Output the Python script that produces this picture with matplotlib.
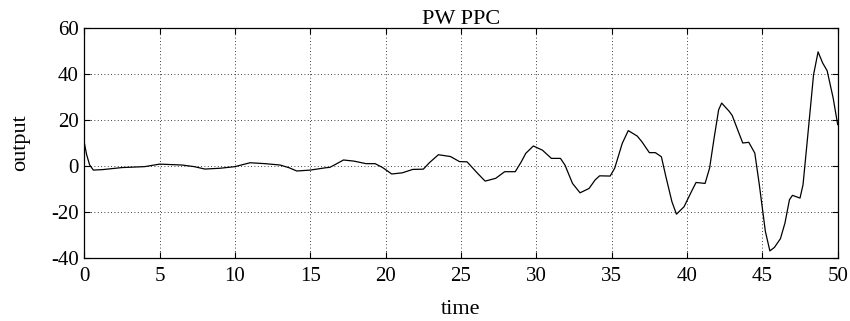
import matplotlib
matplotlib.use("Agg")
import matplotlib.pyplot as plt

t = [0.0, 0.15, 0.35, 0.6, 1.2, 2.5, 4.0, 5.0, 6.5, 7.3, 8.0, 9.0, 10.0, 11.0, 12.0, 13.0, 13.6, 14.1, 15.0,
     16.0, 16.3, 16.7, 17.2, 17.9, 18.7, 19.3, 19.8, 20.4, 21.1, 21.8, 22.5, 22.9, 23.5, 24.3, 24.9, 25.4,
     26.1, 26.6, 27.3, 27.9, 28.6, 29.0, 29.3, 29.8, 30.4, 31.0, 31.6, 31.9, 32.4, 32.9, 33.5, 33.9, 34.2,
     34.9, 35.2, 35.7, 36.1, 36.7, 37.0, 37.5, 37.9, 38.3, 38.6, 39.0, 39.3, 39.8, 40.3, 40.6, 41.2,
     41.5, 41.8, 42.1, 42.3, 42.8, 43.0, 43.4, 43.7, 44.1, 44.5, 44.8, 45.2, 45.5, 45.8, 46.2, 46.5,
     46.8, 47.0, 47.5, 47.7, 48.0, 48.4, 48.7, 49.0, 49.3, 49.7, 50.0]
output = [10.1, 5.0, 0.5, -1.8, -1.6, -0.7, -0.3, 0.8, 0.4, -0.3, -1.35, -1.0, -0.3, 1.4, 1.0, 0.4, -0.8, -2.2, -1.8,
          -0.8, -0.6, 0.8, 2.6, 2.1, 1.0, 1.0, -0.7, -3.5, -3.0, -1.5, -1.4, 1.4, 4.9, 4.1, 1.9, 1.8,
          -3.2, -6.6, -5.4, -2.5, -2.5, 1.8, 5.5, 8.7, 6.9, 3.3, 3.3, 0.4, -7.6, -11.7, -9.8, -6.1, -4.3,
          -4.4, -1.0, 9.8, 15.4, 13.0, 10.6, 5.8, 5.8, 4.0, -4.7, -15.6, -21.0, -17.8, -11.1, -7.2, -7.6,
          -0.9, 12.2, 24.5, 27.4, 23.8, 22.0, 15.1, 10.0, 10.3, 5.6, -8.2, -28.5, -37.0, -35.5, -31.7, -24.9,
          -14.7, -12.8, -14.0, -8.2, 12.2, 39.8, 49.7, 44.9, 41.5, 29.6, 18.0]

x_ticks = [0, 5, 10, 15, 20, 25, 30, 35, 40, 45, 50]
y_ticks = [-40, -20, 0, 20, 40, 60]

plt.rcParams['font.family'] = ['Liberation Serif', 'DejaVu Serif']
plt.rcParams['axes.unicode_minus'] = False
fig = plt.figure(figsize=(8.5, 3.21), dpi=100)
ax = fig.add_axes([0.0992, 0.197, 0.8863, 0.715])
ax.plot(t, output, color='black', linewidth=0.9)
ax.set_xlim(0, 50)
ax.set_ylim(-40, 60)
ax.set_xticks(x_ticks)
ax.set_yticks(y_ticks)
ax.grid(True, color='black', linestyle=(0, (1, 3)), linewidth=0.6)
ax.tick_params(direction='in', top=True, right=True, labelsize=15, length=4)
ax.tick_params(axis='x', pad=7)
ax.tick_params(axis='y', pad=4)
for s in ax.spines.values():
    s.set_linewidth(0.9)
ax.set_title('PW PPC', fontsize=16, pad=3)
ax.set_xlabel('time', fontsize=16, labelpad=10)
ax.set_ylabel('output', fontsize=16, labelpad=15)
fig.savefig('out.png', dpi=100)
